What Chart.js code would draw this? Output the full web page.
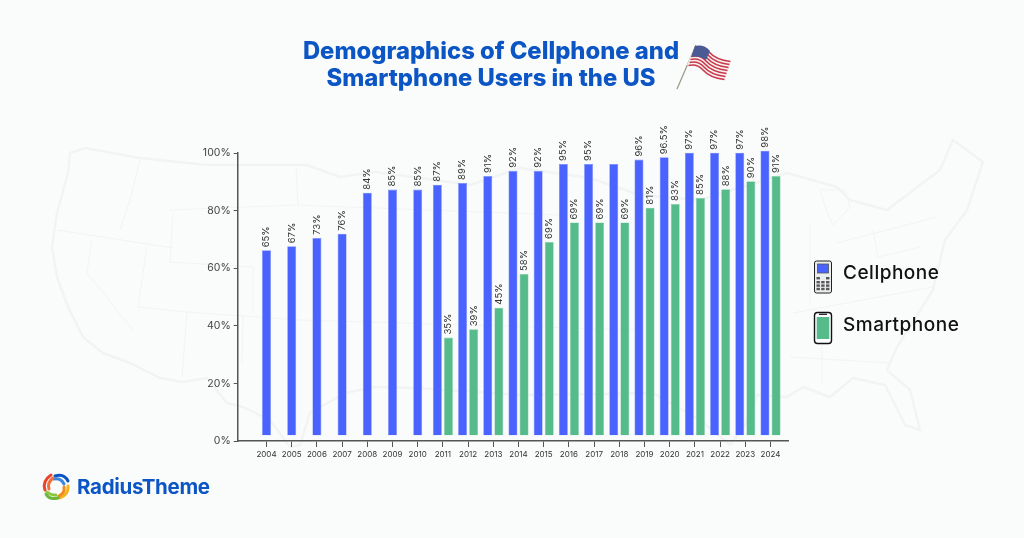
<!DOCTYPE html>
<html>
<head>
<meta charset="utf-8">
<title>Demographics of Cellphone and Smartphone Users in the US</title>
<script src="https://cdn.jsdelivr.net/npm/chart.js@4"></script>
<style>
    html, body { margin: 0; padding: 0; background: #fafbfb; }
    #page { position: relative; width: 1024px; height: 538px; overflow: hidden; font-family: Inter, sans-serif; }
    #map, #deco { position: absolute; left: 0; top: 0; }
    #chart-box { position: absolute; left: 0; top: 0; width: 1024px; height: 538px; }
    .title { position: absolute; left: 240px; width: 502px; text-align: center; color: #0b55c5; font-size: 23.8px; font-weight: 800; line-height: 27px; white-space: nowrap; }
    .legend { position: absolute; left: 843px; color: #111; font-size: 19px; font-weight: 500; line-height: 22px; letter-spacing: 0.5px; }
    .logo { position: absolute; left: 77px; top: 475px; color: #0b55c5; font-size: 20.5px; font-weight: 700; line-height: 24px; letter-spacing: -0.3px; }
</style>
</head>
<body>
<div id="page">
    <!-- faint US map behind the chart -->
    <svg id="map" width="1024" height="538" fill="none" stroke="#f2f4f4" stroke-width="2.4" stroke-linejoin="round">
        <path d="M85 148 L140 158 L207 165 L307 165 L340 177 L375 172 L420 178 L470 185 L520 168 L590 178 L640 195 L700 200 L787 173 L837 187 L850 200 L887 210 L940 170 L953 140 L983 162 L967 210 L945 240 L933 290 L897 347 L887 370 L910 390 L920 430 L905 425 L885 385 L853 378 L830 397 L803 387 L787 397 L757 395 L745 425 L730 445 L700 420 L653 393 L520 395 L417 388 L375 387 L345 393 L310 413 L300 445 L290 447 L270 420 L243 407 L227 403 L207 378 L183 382 L160 378 L130 363 L103 353 L83 337 L68 307 L57 277 L52 247 L57 213 L68 173 L70 153 Z"/>
        <path stroke-width="1" d="M57 230 L173 248 M140 160 L130 200 L120 230 M92 240 L87 273 L133 330 M147 247 L138 307 L187 312 L182 377 M173 213 L170 262 L253 267 L253 313 M243 317 L242 363 M187 312 L300 320 L640 330 M170 210 L296 205 L560 215 M296 165 L298 205 M793 313 L933 287 M790 357 L890 363 M822 340 L822 383 M837 243 L937 217 M810 225 L810 305 M873 230 L878 257 L920 247 M827 212 L820 190 L845 190 L850 207 L833 225 Z"/>
    </svg>

    <div id="chart-box"><canvas id="chart"></canvas></div>

    <div class="title" style="top: 37px;">Demographics of Cellphone and</div>
    <div class="title" style="top: 64px;">Smartphone Users in the US</div>

    <div class="legend" style="top: 262px;">Cellphone</div>
    <div class="legend" style="top: 314px;">Smartphone</div>
    <div class="logo">RadiusTheme</div>

    <svg id="deco" width="1024" height="538" fill="none" pointer-events="none">
        <!-- flag -->
        <line x1="677" y1="89" x2="696" y2="45" stroke="#9a9488" stroke-width="1.2"/>
        <path fill="#f6f0f0" d="M695 46 q9 -2 15 5 t21 10 l-6 19 q-9 1 -16 -6 t-22 -9 Z"/>
        <g stroke="#c8394a" stroke-width="1.5">
            <path d="M694.5 47.5 q9 -2 15 5 t21 9"/>
            <path d="M693.5 50.5 q9 -2 15 5 t21 9"/>
            <path d="M692.5 53.5 q9 -2 15 5 t21 9"/>
            <path d="M691.5 56.5 q9 -2 15 5 t21 9"/>
            <path d="M690.5 59.5 q9 -2 15 5 t21 9"/>
            <path d="M689.5 62.5 q9 -2 15 5 t21 9"/>
            <path d="M688.5 65.5 q9 -2 15 5 t21 9"/>
        </g>
        <path fill="#4a5a94" d="M695 46 q9 -2 15 5 l-4 9 q-7 -5 -15 -3 Z"/>

        <!-- cellphone -->
        <rect x="814.5" y="261" width="17" height="32" rx="2" fill="#eceded" stroke="#222" stroke-width="1"/>
        <rect x="817.5" y="264" width="11" height="9" fill="#4a63ff" stroke="#555" stroke-width="0.8"/>
        <g fill="#55595c">
            <rect x="816.5" y="277" width="3.4" height="2.4"/><rect x="826" y="277" width="3.4" height="2.4"/>
            <rect x="816.5" y="281" width="3.4" height="2.4"/><rect x="821.2" y="281" width="3.4" height="2.4"/><rect x="826" y="281" width="3.4" height="2.4"/>
            <rect x="816.5" y="284.4" width="3.4" height="2.4"/><rect x="821.2" y="284.4" width="3.4" height="2.4"/><rect x="826" y="284.4" width="3.4" height="2.4"/>
            <rect x="816.5" y="287.8" width="3.4" height="2.4"/><rect x="821.2" y="287.8" width="3.4" height="2.4"/><rect x="826" y="287.8" width="3.4" height="2.4"/>
        </g>

        <!-- smartphone -->
        <rect x="814.5" y="312.5" width="17" height="31" rx="3" fill="#fff" stroke="#111" stroke-width="1.4"/>
        <rect x="816.7" y="317" width="12.6" height="22" fill="#56bb8b"/>
        <line x1="819" y1="314.3" x2="827" y2="314.3" stroke="#111" stroke-width="1.2"/>

        <!-- logo swirl -->
        <g stroke-width="3" stroke-linecap="round">
            <path stroke="#0b55c5" d="M55 476 q9 -3 13 5"/>
            <path stroke="#3a86e0" d="M54 479 q7 -1 10 5"/>
            <path stroke="#f5b21b" d="M68 486 q1 8 -8 12"/>
            <path stroke="#f08a1d" d="M64 487 q1 6 -5 9"/>
            <path stroke="#6fb53c" d="M58 498 q-9 2 -12 -4"/>
            <path stroke="#8cc63f" d="M56 495 q-6 0 -9 -3"/>
            <path stroke="#e8452c" d="M45 490 q-3 -9 6 -15"/>
            <path stroke="#f0703a" d="M49 489 q-2 -6 4 -11"/>
        </g>
    </svg>
</div>

<script>
    // values (bar tops against the left axis)
    const years = [2004, 2005, 2006, 2007, 2008, 2009, 2010, 2011, 2012, 2013, 2014,
        2015, 2016, 2017, 2018, 2019, 2020, 2021, 2022, 2023, 2024];
    const cellphone = [66.2, 67.6, 70.5, 72, 86.2, 87.3, 87.3, 89, 89.6, 92, 93.8,
        93.8, 96.2, 96.2, 96.2, 97.7, 98.5, 100.1, 100.1, 100.1, 100.8];
    const smartphone = [null, null, null, null, null, null, null, 35.9, 38.8, 46.3, 58,
        69.1, 75.9, 75.9, 75.9, 81, 82.3, 84.4, 87.4, 90.2, 92];

    // printed labels do not always agree with the bar heights, kept as printed
    const cellphoneLabels = ['65%', '67%', '73%', '76%', '84%', '85%', '85%', '87%', '89%', '91%', '92%',
        '92%', '95%', '95%', null, '96%', '96.5%', '97%', '97%', '97%', '98%'];
    const smartphoneLabels = [null, null, null, null, null, null, null, '35%', '39%', '45%', '58%',
        '69%', '69%', '69%', '69%', '81%', '83%', '85%', '88%', '90%', '91%'];

    const toPoints = (values) => values.map((v, i) => ({ x: years[i], y: v }));

    // rotated percentage text above each bar
    const barLabels = {
        id: 'barLabels',
        afterDatasetsDraw(chart) {
            const ctx = chart.ctx;
            [cellphoneLabels, smartphoneLabels].forEach((labels, d) => {
                chart.getDatasetMeta(d).data.forEach((bar, i) => {
                    if (!labels[i]) return;
                    ctx.save();
                    ctx.translate(bar.x, bar.y - 3);
                    ctx.rotate(-Math.PI / 2);
                    ctx.font = '9.5px Inter, sans-serif';
                    ctx.fillStyle = '#333';
                    ctx.textAlign = 'left';
                    ctx.textBaseline = 'middle';
                    ctx.fillText(labels[i], 0, 0);
                    ctx.restore();
                });
            });
        }
    };

    new Chart(document.getElementById('chart'), {
        type: 'bar',
        plugins: [barLabels],
        data: {
            datasets: [
                { label: 'Cellphone', data: toPoints(cellphone), backgroundColor: '#4a63ff', borderColor: '#7a8dff', borderWidth: 0.6 },
                { label: 'Smartphone', data: toPoints(smartphone), backgroundColor: '#56bb8b', borderColor: '#86cfae', borderWidth: 0.6 }
            ]
        },
        options: {
            responsive: true,
            maintainAspectRatio: false,
            animation: false,
            layout: { padding: { left: 190, top: 153, right: 236, bottom: 67 } },
            datasets: {
                bar: {
                    base: 2,
                    clip: false,
                    skipNull: true,
                    maxBarThickness: 9,
                    categoryPercentage: 0.88,
                    barPercentage: 0.82
                }
            },
            plugins: {
                legend: { display: false },
                tooltip: { enabled: false }
            },
            scales: {
                x: {
                    type: 'linear',
                    offset: false,
                    min: 2002.857,
                    max: 2024.694,
                    afterFit: (scale) => { scale.height = 30; },
                    afterBuildTicks: (scale) => {
                        scale.ticks = scale.ticks.filter((t) => years.includes(t.value));
                    },
                    border: { color: '#555', width: 1.5 },
                    grid: { offset: false, drawOnChartArea: false, color: '#555', tickLength: 6 },
                    ticks: {
                        stepSize: 1,
                        includeBounds: false,
                        autoSkip: false,
                        maxRotation: 0,
                        padding: 3,
                        color: '#333',
                        font: { family: 'Inter', size: 8 },
                        callback: (value) => String(value)
                    }
                },
                y: {
                    min: 0,
                    max: 100,
                    afterFit: (scale) => { scale.width = 47.7; },
                    border: { color: '#555', width: 1.5 },
                    grid: { drawOnChartArea: false, color: '#555', tickLength: 4 },
                    ticks: {
                        stepSize: 20,
                        padding: 3,
                        color: '#444',
                        font: { family: 'Inter', size: 10.5 },
                        callback: (value) => value + '%'
                    }
                }
            }
        }
    });
</script>
</body>
</html>
